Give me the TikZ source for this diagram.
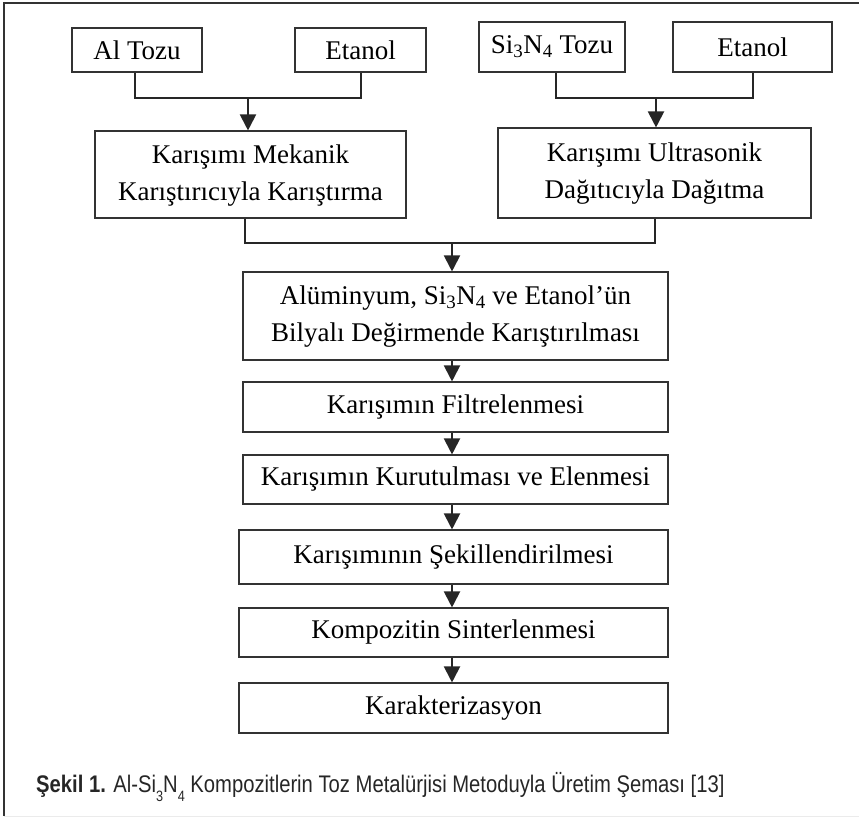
\documentclass[tikz,border=0pt]{standalone}
\usepackage{fontspec}
\setmainfont{Liberation Serif}
\newfontfamily\capfont[FakeStretch=0.843]{Liberation Sans}
\usetikzlibrary{arrows.meta,calc}
\newcommand{\sub}[1]{\textsubscript{#1}}
\newcommand{\capsub}[1]{\raisebox{-0.4em}{\fontsize{15}{15}\selectfont #1}}
\begin{document}
\begin{tikzpicture}[x=1pt,y=-1pt,
  boxn/.style={draw=black!80, line width=1.1pt, inner sep=0pt, align=center,
    font=\fontsize{27}{37}\selectfont, text=black},
  conn/.style={line width=2pt, black!85},
  arr/.style={conn, -{Triangle[length=16pt,width=16pt]}}]
\useasboundingbox (0,0) rectangle (859,818);
% frame
\draw[line width=1.6pt, black!80] (859,3) -- (4,3) -- (4,816);
\draw[line width=0.8pt, black!8] (4,816) -- (859,816);
% boxes
\node[boxn, minimum width=130pt, minimum height=44pt] (al) at (137,50) {Al Tozu};
\node[boxn, minimum width=131pt, minimum height=44pt] (et1) at (360.5,50) {Etanol};
\node[boxn, minimum width=146pt, minimum height=50pt] (si) at (552,47) {Si\sub{3}N\sub{4} Tozu};
\node[boxn, minimum width=159pt, minimum height=50pt] (et2) at (752.5,47) {Etanol};
\node[boxn, minimum width=311pt, minimum height=87pt, text depth=4pt] (mek) at (250.5,174.5) {Karışımı Mekanik\\Karıştırıcıyla Karıştırma};
\node[boxn, minimum width=313pt, minimum height=90pt, text depth=4pt] (ult) at (654.5,173) {Karışımı Ultrasonik\\Dağıtıcıyla Dağıtma};
\node[boxn, minimum width=425pt, minimum height=88pt, text depth=4pt] (alu) at (455.5,316) {Alüminyum, Si\sub{3}N\sub{4} ve Etanol’ün\\Bilyalı Değirmende Karıştırılması};
\node[boxn, minimum width=425pt, minimum height=50pt] (fil) at (455.5,407) {Karışımın Filtrelenmesi};
\node[boxn, minimum width=425pt, minimum height=49pt] (kur) at (455.5,479.5) {Karışımın Kurutulması ve Elenmesi};
\node[boxn, minimum width=429pt, minimum height=54pt] (sek) at (453.5,557) {Karışımının Şekillendirilmesi};
\node[boxn, minimum width=429pt, minimum height=49pt] (kom) at (453.5,632.5) {Kompozitin Sinterlenmesi};
\node[boxn, minimum width=429pt, minimum height=50pt] (kar) at (453.5,708) {Karakterizasyon};
% junctions
\coordinate (j1) at (248,98);
\coordinate (j2) at (656,98);
\coordinate (j3) at (452,243);
% connectors
\draw[conn] ([xshift=-2pt]al.south) |- (j1) -| (et1.south);
\draw[arr] (j1) -- (j1 |- mek.north);
\draw[conn] ([xshift=4pt]si.south) |- (j2) -| (et2.south);
\draw[arr] (j2) -- (j2 |- ult.north);
\draw[conn] ([xshift=-6pt]mek.south) |- (j3) -| (ult.south);
\draw[arr] (j3) -- (j3 |- alu.north);
\draw[arr] (j3 |- alu.south) -- (j3 |- fil.north);
\draw[arr] (j3 |- fil.south) -- (j3 |- kur.north);
\draw[arr] (j3 |- kur.south) -- (j3 |- sek.north);
\draw[arr] (j3 |- sek.south) -- (j3 |- kom.north);
\draw[arr] (j3 |- kom.south) -- (j3 |- kar.north);
% caption
\node[anchor=west, inner sep=0pt, font=\capfont\fontsize{24}{24}\selectfont, text=black!85] (cap) at (36,787)
  {\textbf{Şekil 1.} Al-Si\capsub{3}N\capsub{4} Kompozitlerin Toz Metalürjisi Metoduyla Üretim Şeması [13]};
\end{tikzpicture}
\end{document}
